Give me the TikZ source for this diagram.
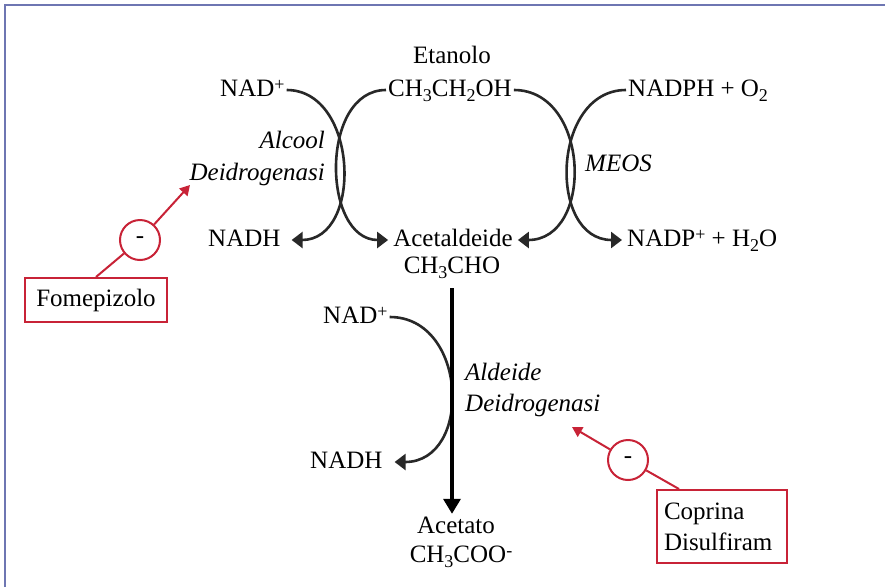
\documentclass[tikz,border=0pt]{standalone}
\usepackage{fontspec}
\setmainfont{Liberation Serif}
\usetikzlibrary{arrows.meta}
\definecolor{redc}{RGB}{200,35,55}
\definecolor{framec}{RGB}{110,118,178}
\definecolor{curvec}{RGB}{40,40,40}
\newcommand\supx[1]{\raisebox{6pt}{\fontsize{18}{18}\selectfont #1}}
\newcommand\subx[1]{\raisebox{-5pt}{\fontsize{18}{18}\selectfont #1}}
\begin{document}
\begin{tikzpicture}[x=1pt,y=-1pt,
  lbl/.style={inner sep=2pt,text height=17pt,text depth=5pt,font=\fontsize{25}{30}\selectfont},
  enz/.style={inner sep=2pt,text height=17pt,text depth=5pt,font=\fontsize{25}{30}\selectfont\itshape},
  curve/.style={draw=curvec,line width=2.6pt,-{Triangle[length=11pt,width=16pt]}},
  bigarrow/.style={draw=black,line width=3.4pt,-{Triangle[length=15pt,width=17pt]}},
  redbox/.style={draw=redc,line width=2pt,fill=white,font=\fontsize{25}{31}\selectfont},
  inh/.style={circle,draw=redc,line width=2pt,fill=white,minimum size=40pt,inner sep=0pt,font=\fontsize{25}{30}\selectfont},
  redline/.style={draw=redc,line width=2pt},
  redarrow/.style={draw=redc,line width=2pt,-{Triangle[length=10pt,width=11pt]}}]
\useasboundingbox (0,0) rectangle (885,587);
\fill[white] (0,0) rectangle (885,587);
\draw[framec,line width=2pt] (5,587) -- (5,5) -- (885,5);

% labels
\node[lbl,anchor=base] (etanolo) at (452,63) {Etanolo};
\node[lbl,anchor=base west] (ethoh) at (386,96) {CH\subx{3}CH\subx{2}OH};
\node[lbl,anchor=base west] (nadA) at (218,96) {NAD\supx{+}};
\node[lbl,anchor=base west] (nadph) at (626,96) {NADPH + O\subx{2}};
\node[enz,anchor=base east] (alcool) at (327,148) {Alcool};
\node[enz,anchor=base east] (deidA) at (327,180) {Deidrogenasi};
\node[enz,anchor=base west] (meos) at (583,171) {MEOS};
\node[lbl,anchor=base west] (nadhA) at (206,246) {NADH};
\node[lbl,anchor=base] (acetald) at (453,246) {Acetaldeide};
\node[lbl,anchor=base] (ch3cho) at (452,273) {CH\subx{3}CHO};
\node[lbl,anchor=base west] (nadp) at (625,246) {NADP\supx{+} + H\subx{2}O};
\node[lbl,anchor=base west] (nadB) at (321,323) {NAD\supx{+}};
\node[enz,anchor=base west] (aldeide) at (463,380) {Aldeide};
\node[enz,anchor=base west] (deidB) at (463,411) {Deidrogenasi};
\node[lbl,anchor=base west] (nadhB) at (308,468) {NADH};
\node[lbl,anchor=base] (acetato) at (456,533) {Acetato};
\node[lbl,anchor=base] (ch3coo) at (461,562) {CH\subx{3}COO\supx{-}};

% black curves
\draw[curve] (nadA.east) to[out=0,in=0,looseness=1.22] ([xshift=9pt]nadhA.east);
\draw[curve] (ethoh.west) to[out=180,in=180,looseness=1.13] ([xshift=-3pt]acetald.west);
\draw[curve] (ethoh.east) to[out=0,in=0,looseness=1.3] ([xshift=3pt]acetald.east);
\draw[curve] (nadph.west) to[out=180,in=180,looseness=1.27] ([xshift=-3pt]nadp.west);
\draw[curve] (nadB.east) to[out=0,in=0,looseness=1.38] ([xshift=10pt]nadhB.east);
\draw[bigarrow,shorten <=8pt] (ch3cho.south) -- (ch3cho.south |- acetato.north);

% inhibitors
\node[redbox,minimum width=142pt,minimum height=44pt,inner sep=0pt] (fome) at (96,300) {Fomepizolo};
\node[inh] (c1) at (140,240) {-};
\coordinate (t1) at (190,185);
\draw[redline] ([xshift=72pt]fome.north west) -- (c1);
\draw[redarrow] (c1) -- (t1);

\node[redbox,align=left,text width=116pt,inner xsep=7pt,minimum width=130pt,minimum height=73pt] (cop) at (722,526.5) {Coprina\\Disulfiram};
\node[inh] (c2) at (628,460) {-};
\coordinate (t2) at (572,427);
\draw[redline] ([xshift=23pt]cop.north west) -- (c2);
\draw[redarrow] (c2) -- (t2);
\end{tikzpicture}
\end{document}
